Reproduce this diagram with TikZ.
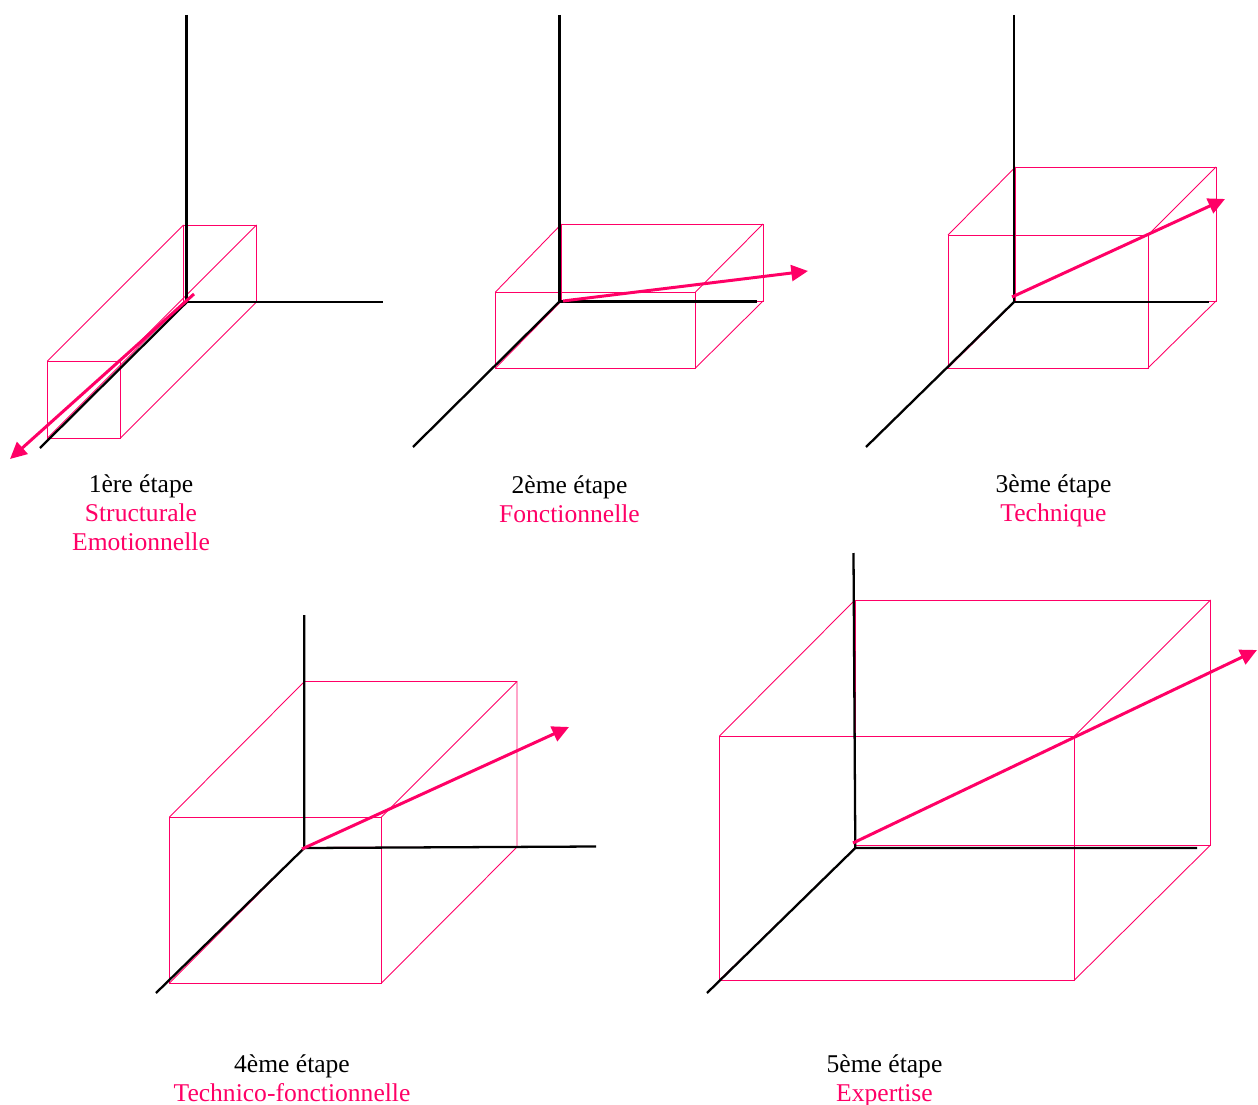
\documentclass[tikz,border=0pt]{standalone}
\usepackage{fontspec}
\setmainfont{Liberation Serif}
\usepackage{xcolor}
\usepackage{tikz}
\usetikzlibrary{arrows.meta}
\definecolor{vivid}{HTML}{FF0066}
\tikzset{
  axisline/.style={draw=black, line width=1.3pt},
  boxline/.style={draw=vivid, line width=0.5pt},
  skillarrow/.style={
    -{Triangle[length=9.5pt, width=9pt]}, draw=vivid, fill=vivid, line width=1.7pt
  },
  caption/.style={
    anchor=north, align=center, inner sep=0pt,
    font=\fontsize{14.55}{16.45}\selectfont
  },
}
\begin{document}
\begin{tikzpicture}[x=0.02cm, y=-0.02cm]
  \useasboundingbox (0,0) rectangle (1258,1105);

  % 1ere etape
  \coordinate (o1) at (186.6,302.3);
  \coordinate (up1) at (186.6,15);
  \coordinate (right1) at (383,302.3);
  \coordinate (front1) at (40,448);
  \coordinate (ftl1) at (47.5,361);
  \coordinate (ftr1) at (120.5,361);
  \coordinate (fbr1) at (120.5,438);
  \coordinate (fbl1) at (47.5,438);
  \coordinate (btl1) at (183.5,225);
  \coordinate (btr1) at (256.5,225);
  \coordinate (bbr1) at (256.5,302);
  \coordinate (bbl1) at (183.5,302);
  \coordinate (from1) at (194,294);
  \coordinate (to1) at (10,459);
  \draw[boxline] (ftl1) -- (ftr1) -- (fbr1) -- (fbl1) -- cycle;
  \draw[boxline] (btl1) -- (btr1) -- (bbr1) -- (bbl1) -- cycle;
  \draw[boxline] (ftl1) -- (btl1);
  \draw[boxline] (ftr1) -- (btr1);
  \draw[boxline] (fbr1) -- (bbr1);
  \draw[boxline] (fbl1) -- (bbl1);
  \draw[axisline] (up1) -- (o1) -- (right1);
  \draw[axisline] (o1) -- (front1);
  \draw[skillarrow] (from1) -- (to1);
  \node[caption] (label1) at (141,474.5) {1ère étape\\\color{vivid}Structurale\\\color{vivid}Emotionnelle};

  % 2eme etape
  \coordinate (o2) at (559.6,301.5);
  \coordinate (up2) at (559.6,15);
  \coordinate (right2) at (757,301.5);
  \coordinate (front2) at (413,447);
  \coordinate (ftl2) at (495.5,292);
  \coordinate (ftr2) at (695.5,292);
  \coordinate (fbr2) at (695.5,368);
  \coordinate (fbl2) at (495.5,368);
  \coordinate (btl2) at (561.5,224);
  \coordinate (btr2) at (763,224);
  \coordinate (bbr2) at (763,301);
  \coordinate (bbl2) at (561.5,301);
  \coordinate (from2) at (563,301);
  \coordinate (to2) at (808,271);
  \draw[boxline] (ftl2) -- (ftr2) -- (fbr2) -- (fbl2) -- cycle;
  \draw[boxline] (btl2) -- (btr2) -- (bbr2) -- (bbl2) -- cycle;
  \draw[boxline] (ftl2) -- (btl2);
  \draw[boxline] (ftr2) -- (btr2);
  \draw[boxline] (fbr2) -- (bbr2);
  \draw[boxline] (fbl2) -- (bbl2);
  \draw[axisline] (up2) -- (o2) -- (right2);
  \draw[axisline] (o2) -- (front2);
  \draw[skillarrow] (from2) -- (to2);
  \node[caption] (label2) at (569.5,475.5) {2ème étape\\\color{vivid}Fonctionnelle};

  % 3eme etape
  \coordinate (o3) at (1014.3,301.7);
  \coordinate (up3) at (1014.3,15);
  \coordinate (right3) at (1209,301.7);
  \coordinate (front3) at (866,447);
  \coordinate (ftl3) at (948,235);
  \coordinate (ftr3) at (1148,235);
  \coordinate (fbr3) at (1148,368);
  \coordinate (fbl3) at (948,368);
  \coordinate (btl3) at (1015.5,167);
  \coordinate (btr3) at (1216,167);
  \coordinate (bbr3) at (1216,301);
  \coordinate (bbl3) at (1015.5,301);
  \coordinate (from3) at (1012,297);
  \coordinate (to3) at (1225,199);
  \draw[boxline] (ftl3) -- (ftr3) -- (fbr3) -- (fbl3) -- cycle;
  \draw[boxline] (btl3) -- (btr3) -- (bbr3) -- (bbl3) -- cycle;
  \draw[boxline] (ftl3) -- (btl3);
  \draw[boxline] (ftr3) -- (btr3);
  \draw[boxline] (fbr3) -- (bbr3);
  \draw[boxline] (fbl3) -- (bbl3);
  \draw[axisline] (up3) -- (o3) -- (right3);
  \draw[axisline] (o3) -- (front3);
  \draw[skillarrow] (from3) -- (to3);
  \node[caption] (label3) at (1053.5,474.5) {3ème étape\\\color{vivid}Technique};

  % 4eme etape
  \coordinate (o4) at (304.3,848);
  \coordinate (up4) at (304.3,615);
  \coordinate (right4) at (596,846.5);
  \coordinate (front4) at (156,993);
  \coordinate (ftl4) at (169.5,817);
  \coordinate (ftr4) at (381.5,817);
  \coordinate (fbr4) at (381.5,983);
  \coordinate (fbl4) at (169.5,983);
  \coordinate (btl4) at (304.5,681.5);
  \coordinate (btr4) at (517,681.5);
  \coordinate (bbr4) at (517,847);
  \coordinate (bbl4) at (304.5,847.5);
  \coordinate (from4) at (302,849);
  \coordinate (to4) at (569,727);
  \draw[boxline] (ftl4) -- (ftr4) -- (fbr4) -- (fbl4) -- cycle;
  \draw[boxline] (btl4) -- (btr4) -- (bbr4) -- (bbl4) -- cycle;
  \draw[boxline] (ftl4) -- (btl4);
  \draw[boxline] (ftr4) -- (btr4);
  \draw[boxline] (fbr4) -- (bbr4);
  \draw[boxline] (fbl4) -- (o4);
  \draw[axisline] (up4) -- (o4) -- (right4);
  \draw[axisline] (o4) -- (front4);
  \draw[skillarrow] (from4) -- (to4);
  \node[caption] (label4) at (292,1054.5) {4ème étape\\\color{vivid}Technico-fonctionnelle};

  % 5eme etape
  \coordinate (o5) at (855.3,848);
  \coordinate (up5) at (853.5,553);
  \coordinate (right5) at (1197,848);
  \coordinate (front5) at (707,993);
  \coordinate (ftl5) at (719.5,736);
  \coordinate (ftr5) at (1074.5,736);
  \coordinate (fbr5) at (1074.5,980);
  \coordinate (fbl5) at (719.5,980);
  \coordinate (btl5) at (855,600);
  \coordinate (btr5) at (1210.5,600);
  \coordinate (bbr5) at (1210.5,845);
  \coordinate (bbl5) at (855,845);
  \coordinate (from5) at (853,843);
  \coordinate (to5) at (1257,650);
  \draw[boxline] (ftl5) -- (ftr5) -- (fbr5) -- (fbl5) -- cycle;
  \draw[boxline] (btl5) -- (btr5) -- (bbr5) -- (bbl5) -- cycle;
  \draw[boxline] (ftl5) -- (btl5);
  \draw[boxline] (ftr5) -- (btr5);
  \draw[boxline] (fbr5) -- (bbr5);
  \draw[boxline] (fbl5) -- (o5);
  \draw[axisline] (up5) -- (o5) -- (right5);
  \draw[axisline] (o5) -- (front5);
  \draw[skillarrow] (from5) -- (to5);
  \node[caption] (label5) at (884.5,1054.5) {5ème étape\\\color{vivid}Expertise};
\end{tikzpicture}
\end{document}
